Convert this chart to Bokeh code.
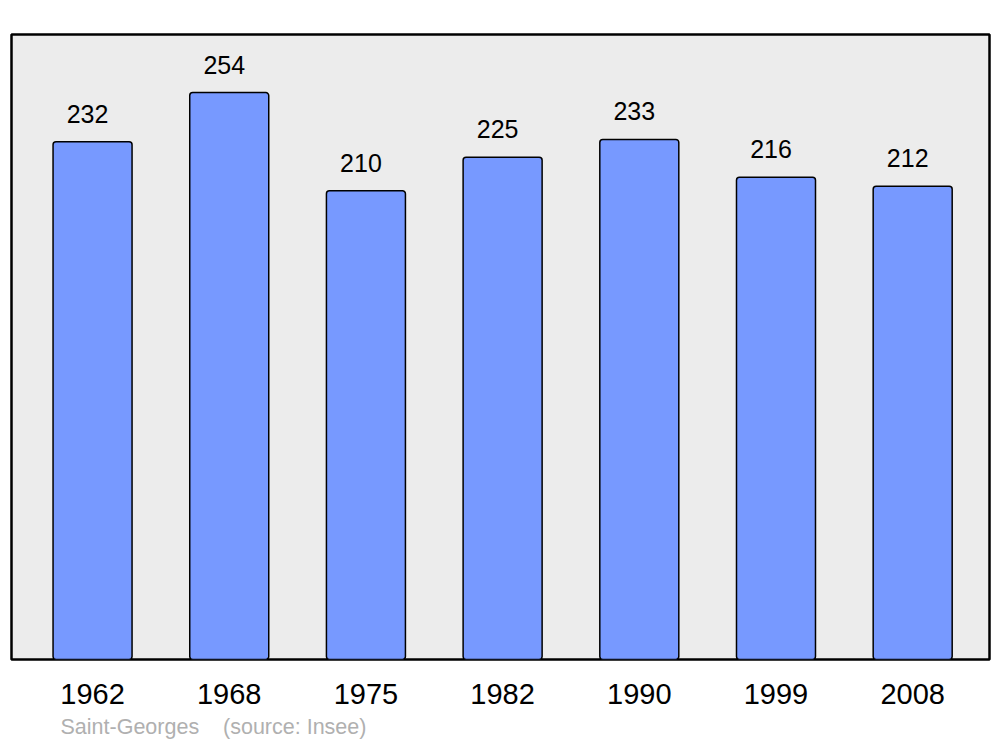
from bokeh.plotting import figure
from bokeh.models import Range1d, FixedTicker, Title, ColumnDataSource
from bokeh.embed import file_html
from bokeh.resources import INLINE
from bokeh.core.properties import value

years = ["1962", "1968", "1975", "1982", "1990", "1999", "2008"]
population = [232, 254, 210, 225, 233, 216, 212]
place = "Saint-Georges"
source_note = "(source: Insee)"

idx = list(range(len(years)))
src = ColumnDataSource(dict(x=idx, top=population, label=[str(v) for v in population]))

p = figure(width=1000, height=745, output_backend="svg", toolbar_location=None,
           x_range=Range1d(-0.593, 6.562), y_range=Range1d(0, 280),
           min_border_left=11, min_border_right=11, min_border_top=34, min_border_bottom=0)
p.background_fill_color = "#ececec"
p.border_fill_color = "white"
p.outline_line_color = "black"
p.outline_line_width = 2.5
p.grid.visible = False
p.yaxis.visible = False

p.vbar(x="x", top="top", bottom=0, width=0.578, source=src,
       fill_color="#7799ff", line_color="black", line_width=1.5, border_radius=3)

p.text(x="x", y="top", text="label", source=src, x_offset=-5, y_offset=-28,
       text_align="center", text_baseline="middle", text_font=value("Liberation Sans"),
       text_font_size="25px", text_color="black")

xa = p.xaxis[0]
xa.ticker = FixedTicker(ticks=idx)
xa.major_label_overrides = {i: y for i, y in zip(idx, years)}
xa.axis_line_color = None
xa.major_tick_line_color = None
xa.minor_tick_line_color = None
xa.major_tick_out = 0
xa.major_tick_in = 0
xa.major_label_standoff = 24
xa.major_label_text_font = "Liberation Sans"
xa.major_label_text_font_size = "29px"
xa.major_label_text_color = "black"

note = place + "\u00a0\u00a0\u00a0\u00a0" + source_note
p.add_layout(Title(text=note, align="left", offset=49, standoff=13,
                   text_font="Liberation Sans", text_font_size="21.5px",
                   text_font_style="normal", text_color="#b0b0b0"), "below")

open("out.html", "w").write(file_html(p, INLINE))
